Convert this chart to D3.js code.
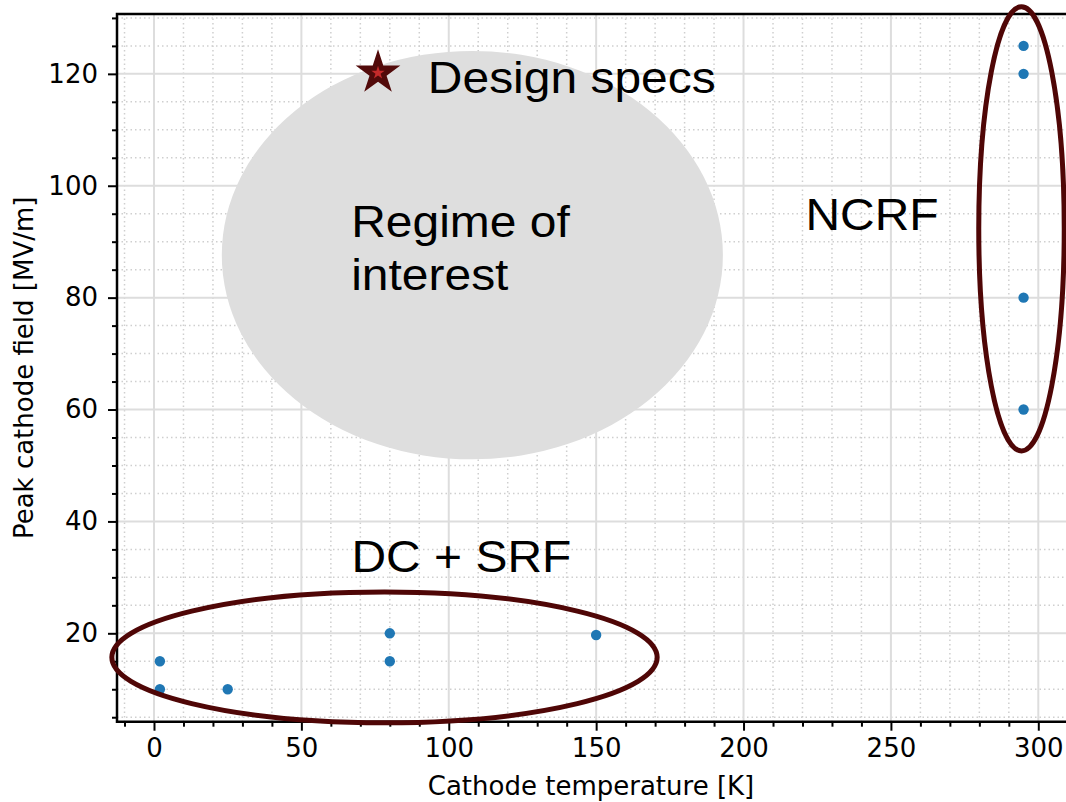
<!DOCTYPE html>
<html><head><meta charset="utf-8">
<script src="https://cdn.jsdelivr.net/npm/d3@7"></script>
<style>body{margin:0;background:#fff}svg{display:block}</style>
</head><body><svg id="c" width="1066" height="802"></svg>
<script>
// ---- data ----
const temps  = [2, 2, 25, 80, 80, 150, 295, 295, 295, 295];
const fields = [15, 10, 10, 20, 15, 19.7, 125, 120, 80, 60];
const xTicks = [0, 50, 100, 150, 200, 250, 300];
const yTicks = [20, 40, 60, 80, 100, 120];
const designSpec = [76, 120];
// regions: [cx, cy, width, height] in data units
const regimeRegion = [108, 87.6, 170, 73];
const ncrfRegion   = [294.3, 92.3, 29, 79.4];
const dcsrfRegion  = [78.2, 15.7, 185, 23.4];
const labels = {x: "Cathode temperature [K]", y: "Peak cathode field [MV/m]"};

const svg = d3.select("#c");
const x = d3.scaleLinear().domain([-12.55, 310.3]).range([117, 117 + 322.85 * 2.9477]);
const y = d3.scaleLinear().domain([4.2, 130.7]).range([721.7, 14]);
const L = 117, R = 1066, T = 14, B = 721.7;

const xMinor = d3.range(-10, 311, 10).filter(v => v % 50 !== 0);
const yMinor = d3.range(5, 131, 5).filter(v => v % 20 !== 0);

// grid
const g = svg.append("g");
g.selectAll(".vmin").data(xMinor).join("line")
  .attr("x1", d => x(d)).attr("x2", d => x(d)).attr("y1", T).attr("y2", B)
  .attr("stroke", "#cfcfcf").attr("stroke-width", 1.5).attr("stroke-dasharray", "1.5,3");
g.selectAll(".hmin").data(yMinor).join("line")
  .attr("y1", d => y(d)).attr("y2", d => y(d)).attr("x1", L).attr("x2", R)
  .attr("stroke", "#cfcfcf").attr("stroke-width", 1.5).attr("stroke-dasharray", "1.5,3");
g.selectAll(".vmaj").data(xTicks).join("line")
  .attr("x1", d => x(d)).attr("x2", d => x(d)).attr("y1", T).attr("y2", B)
  .attr("stroke", "#dddddd").attr("stroke-width", 2);
g.selectAll(".hmaj").data(yTicks).join("line")
  .attr("y1", d => y(d)).attr("y2", d => y(d)).attr("x1", L).attr("x2", R)
  .attr("stroke", "#dddddd").attr("stroke-width", 2);

// regime of interest
function ell(sel, r) {
  const [cx, cy, w, h] = r;
  return sel.append("ellipse")
    .attr("cx", x(cx)).attr("cy", y(cy))
    .attr("rx", x(cx + w / 2) - x(cx)).attr("ry", y(cy) - y(cy + h / 2));
}
ell(svg, regimeRegion).attr("fill", "#dedede");

// axes
const xAxis = d3.axisBottom(x).tickValues(xTicks).tickSize(9).tickPadding(8).tickFormat(d3.format("d"));
const xAxisMinor = d3.axisBottom(x).tickValues(xMinor).tickSize(5).tickFormat("");
const yAxis = d3.axisLeft(y).tickValues(yTicks).tickSize(9).tickPadding(10).tickFormat(d3.format("d"));
const yAxisMinor = d3.axisLeft(y).tickValues(yMinor).tickSize(5).tickFormat("");

function styleAxis(a) {
  a.select(".domain").remove();
  a.selectAll("line").attr("stroke", "#000").attr("stroke-width", 2);
  a.selectAll("text").attr("font-family", "DejaVu Sans").attr("font-size", 26).attr("fill", "#000");
}
svg.append("g").attr("transform", `translate(0,${B})`).call(xAxisMinor).call(styleAxis);
svg.append("g").attr("transform", `translate(0,${B})`).call(xAxis).call(styleAxis);
svg.append("g").attr("transform", `translate(${L},0)`).call(yAxisMinor).call(styleAxis);
svg.append("g").attr("transform", `translate(${L},0)`).call(yAxis).call(styleAxis);

// spines
svg.append("path").attr("d", `M${R},${T}H${L}V${B}H${R}`).attr("fill", "none")
  .attr("stroke", "#000").attr("stroke-width", 2.5);

// axis labels
svg.append("text").attr("x", 591).attr("y", 795).attr("text-anchor", "middle")
  .attr("font-family", "DejaVu Sans").attr("font-size", 26).text(labels.x);
svg.append("text").attr("transform", `translate(33,${(T + B) / 2}) rotate(-90)`).attr("text-anchor", "middle")
  .attr("font-family", "DejaVu Sans").attr("font-size", 26).text(labels.y);

// annotations
const af = "Liberation Sans, Arial, sans-serif";
function ann(tx, ty, lines, dy) {
  const px = x(tx), py = y(ty) + dy;
  const t = svg.append("text").attr("font-family", af).attr("font-size", 44).attr("fill", "#000")
    .attr("transform", `translate(${px},${py}) scale(1.09,1)`);
  lines.forEach((s, i) => t.append("tspan").attr("x", 0).attr("y", i * 53.3).text(s));
}
ann(92.9, 120, ["Design specs"], 19.5);
ann(66.9, 87.6, ["Regime of", "interest"], -18.5);
ann(221, 92.1, ["NCRF"], 0);
ann(67, 31, ["DC + SRF"], 0);

// star
function starPath(cx, cy, r) {
  const ri = r * 0.381966, pts = [];
  for (let i = 0; i < 10; i++) {
    const a = -Math.PI / 2 + i * Math.PI / 5, rr = i % 2 ? ri : r;
    pts.push([cx + rr * Math.cos(a), cy + rr * Math.sin(a)]);
  }
  return "M" + pts.map(p => p.join(",")).join("L") + "Z";
}
svg.append("path").attr("d", starPath(x(designSpec[0]), y(designSpec[1]) - 1, 23.5)).attr("fill", "#520a0a");
svg.append("path").attr("d", starPath(x(designSpec[0]), y(designSpec[1]) - 1, 7)).attr("fill", "#c42a2a");

// points
svg.selectAll(".pt").data(temps.map((t, i) => [t, fields[i]])).join("circle")
  .attr("cx", d => x(d[0])).attr("cy", d => y(d[1])).attr("r", 5.2).attr("fill", "#1f77b4");

// region outlines
ell(svg, ncrfRegion).attr("fill", "none").attr("stroke", "#4f0606").attr("stroke-width", 5);
ell(svg, dcsrfRegion).attr("fill", "none").attr("stroke", "#4f0606").attr("stroke-width", 5);
</script></body></html>
